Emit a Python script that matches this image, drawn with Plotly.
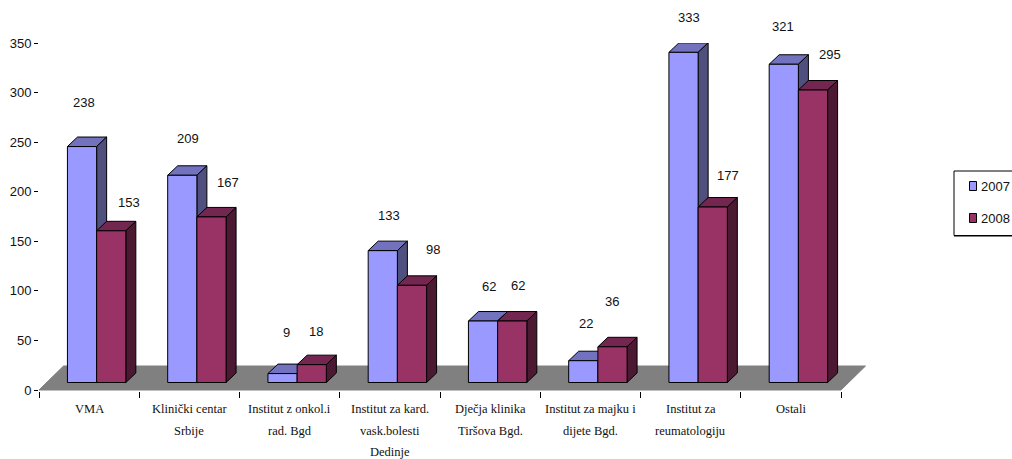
import plotly.graph_objects as go

# ---- data ----
categories = ["VMA", "Klinički centar<br>Srbije", "Institut z onkol.i<br>rad. Bgd",
              "Institut za kard.<br>vask.bolesti<br>Dedinje", "Dječja klinika<br>Tiršova Bgd.",
              "Institut za majku i<br>dijete Bgd.", "Institut za<br>reumatologiju", "Ostali"]
values_2007 = [238, 209, 9, 133, 62, 22, 333, 321]
values_2008 = [153, 167, 18, 98, 62, 36, 177, 295]
series_names = ["2007", "2008"]
y_ticks = [0, 50, 100, 150, 200, 250, 300, 350]

# ---- label nudges in px (dx, dy above the bar's front top) ----
shift_2007 = [(2, 44), (6, 37), (4, 41), (6, 35), (6, 35), (3, 37), (5, 35), (-1, 38)]
shift_2008 = [(18, 28), (17, 34), (4, 33), (21, 36), (6, 36), (0, 45), (15, 32), (17, 36)]

# ---- page geometry ----
W, H = 1012, 459
L, R, T, B = 39, 841, 43, 390
PX_X = (R - L) / 8
PX_Y = (B - T) / 350
DX = 10 / PX_X            # bar depth in x units
DY = 9.5 / PX_Y           # bar depth in y units
BAR_W = 29.2 / PX_X
LIFT = 7.5 / PX_Y         # how far the bars stand above the axis plane
SHIFT = 7.5 / PX_X
FLOOR_X = 24.5 / PX_X
FLOOR_Y = 24 / PX_Y


def px(x):
    return (x - L) / (R - L)


def py(y):
    return (B - y) / (B - T)


COL = {"2007": ("#9999FF", "#7272BF", "#50507F"), "2008": ("#993366", "#722650", "#4C1933")}
fig = go.Figure()


def poly(polys, color, z):
    xs, ys = [], []
    for p in polys:
        xs += [q[0] for q in p] + [p[0][0], None]
        ys += [q[1] for q in p] + [p[0][1], None]
    fig.add_trace(go.Scatter(x=xs, y=ys, mode="lines", fill="toself", fillcolor=color,
                             line=dict(color="black", width=1, simplify=False), cliponaxis=False,
                             hoverinfo="skip", showlegend=False, zorder=z))


# floor (below every trace, in axis fractions so it can run past the axis end)
fx, fy = FLOOR_X / 8, FLOOR_Y / 350
fig.add_shape(type="path", xref="paper", yref="paper", layer="below",
              path=f"M 0 0 L {fx} {fy} L {1 + fx} {fy} L 1 0 Z",
              fillcolor="#808080", line=dict(color="#808080", width=1))

for s, (name, vals, off) in enumerate([("2007", values_2007, -BAR_W / 2), ("2008", values_2008, BAR_W / 2)]):
    front, top, side = COL[name]
    centres = [i + 0.5 + SHIFT + off for i in range(8)]
    tops, sides = [], []
    for c, v in zip(centres, vals):
        x0, x1 = c - BAR_W / 2, c + BAR_W / 2
        y0, y1 = LIFT, LIFT + v
        tops.append([(x0, y1), (x0 + DX, y1 + DY), (x1 + DX, y1 + DY), (x1, y1)])
        sides.append([(x1, y0), (x1 + DX, y0 + DY), (x1 + DX, y1 + DY), (x1, y1)])
    poly(tops, top, 1 + 2 * s)
    poly(sides, side, 1 + 2 * s)
    fig.add_trace(go.Bar(x=centres, y=vals, base=LIFT, width=BAR_W, name=name,
                         marker=dict(color=front, line=dict(color="black", width=1)),
                         cliponaxis=False, showlegend=False, hoverinfo="skip", zorder=2 + 2 * s))
    shifts = shift_2007 if s == 0 else shift_2008
    for c, v, (sx, sy) in zip(centres, vals, shifts):
        fig.add_annotation(x=c, y=LIFT + v, text=str(v), showarrow=False, xshift=sx, yshift=sy,
                           font=dict(family="Liberation Sans", size=13, color="#111111"))

# category labels, one annotation per line for the wide line pitch
for i, cat in enumerate(categories):
    for j, line in enumerate(cat.split("<br>")):
        fig.add_annotation(x=i + 0.5, y=py(409 + j * 21.7), yref="paper", yanchor="middle", text=line,
                           showarrow=False,
                           font=dict(family="Liberation Serif", size=12.5, color="#111111"))

# legend
fig.add_shape(type="rect", xref="paper", yref="paper", x0=px(954), x1=px(1030), y0=py(235.5), y1=py(171),
              line=dict(color="black", width=1), fillcolor="white")
fig.add_shape(type="line", xref="paper", yref="paper", x0=px(954), x1=px(1030), y0=py(236.5), y1=py(236.5),
              line=dict(color="#808080", width=1))
for name, yc in zip(series_names, [186, 218]):
    fig.add_shape(type="rect", xref="paper", yref="paper", x0=px(969.5), x1=px(976.5), y0=py(yc + 4.5), y1=py(yc - 4.5),
                  line=dict(color="black", width=1), fillcolor=COL[name][0])
    fig.add_annotation(xref="paper", yref="paper", x=px(979), y=py(yc), xanchor="left", text=name, showarrow=False,
                       font=dict(family="Liberation Sans", size=13, color="#111111"))

fig.update_layout(
    width=W, height=H, autosize=False, barmode="overlay", showlegend=False, hovermode=False,
    paper_bgcolor="white", plot_bgcolor="rgba(0,0,0,0)",
    margin=dict(l=L, r=W - R, t=T, b=H - B, pad=0),
    xaxis=dict(range=[0, 8], tickvals=list(range(9)), showticklabels=False, ticks="outside", ticklen=6,
               tickcolor="black", tickwidth=1, showgrid=False, zeroline=False, showline=True,
               linecolor="black", linewidth=1.5, automargin=False),
    yaxis=dict(range=[0, 350], tickvals=y_ticks, ticks="outside", ticklen=4, tickcolor="black", tickwidth=1,
               showgrid=False, zeroline=False, showline=True, linecolor="black", linewidth=1, automargin=False,
               tickfont=dict(family="Liberation Sans", size=13, color="#111111")),
)
fig.write_html("out.html", config={"displayModeBar": False},
               post_script="document.body.style.margin='0';")
